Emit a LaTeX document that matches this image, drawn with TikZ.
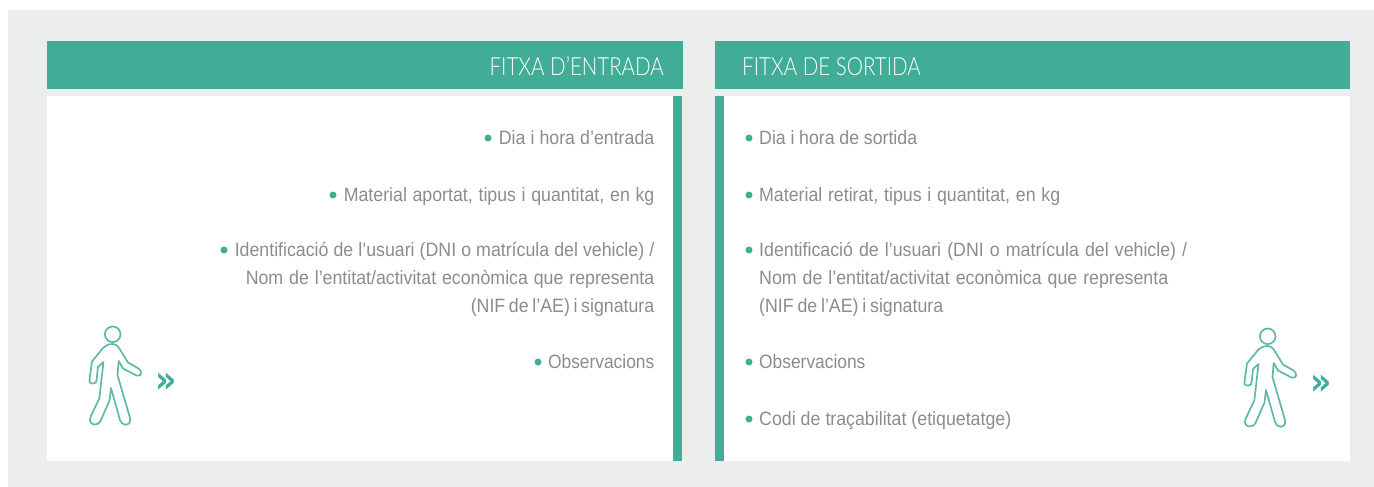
\documentclass[tikz,border=0pt]{standalone}
\usepackage{fontspec}
\setmainfont{Liberation Sans}[FakeStretch=0.92]
\newfontfamily\obsfont{Liberation Sans}[FakeStretch=0.9]
\newfontfamily\headfont{Lato Light}[FakeStretch=0.82]
\newfontfamily\chevfont{DejaVu Sans Bold}
\definecolor{teal1}{HTML}{41AD97}
\definecolor{bgc}{HTML}{ECEDED}
\definecolor{txt}{HTML}{8C8C8C}
\newcommand{\fitw}[2]{\makebox[#1pt][s]{#2}}
\tikzset{
  x=1pt,y=-1pt,
  band/.style={fill=teal1,draw=none},
  panel/.style={fill=white,draw=none},
  head/.style={text=white,font=\headfont\fontsize{25}{27}\selectfont,inner sep=0pt},
  itemR/.style={text=txt,font=\fontsize{19.3}{27.5}\selectfont,inner sep=0pt,anchor=base east,align=right},
  itemL/.style={text=txt,font=\fontsize{19.3}{27.5}\selectfont,inner sep=0pt,anchor=base west,align=left},
  bul/.style={circle,fill=teal1,inner sep=0pt,minimum size=7pt},
  walker/.style={draw=teal1!85,line width=1.7pt,line join=round,fill=none},
  chev/.style={text=teal1,font=\chevfont\fontsize{33}{33}\selectfont,inner sep=0pt},
}
\newcommand{\walkfig}[2]{%
 \begin{scope}[shift={(#1,#2)}]
 \draw[walker] (112.7,334.3) circle[radius=7.8];
 \draw[walker] (112.5,344)
   .. controls (108,344) and (105,346) .. (103,348)
   -- (92,361.5) -- (89.7,378)
   .. controls (89,383) and (90,383.5) .. (93.5,383.5)
   .. controls (96,383.5) and (96.5,382) .. (96.7,379)
   -- (98,367) -- (103.5,362)
   -- (99.3,398.5) -- (90.5,417)
   .. controls (88.5,422) and (92,424.5) .. (95,424.5)
   .. controls (98,424.5) and (99.5,423) .. (100.5,421)
   -- (109.5,400.5) -- (111,388)
   -- (120,420)
   .. controls (121,423) and (123,424.7) .. (125.5,424.7)
   .. controls (129,424.7) and (131,421.5) .. (130,418)
   -- (117.5,375) -- (118.7,361)
   -- (123,368.5) -- (136.5,375.5)
   .. controls (139,376.5) and (141,375.5) .. (141,372.5)
   .. controls (141,371) and (140,369.5) .. (138.5,368.5)
   -- (128,362.5) -- (119,348)
   .. controls (117,345) and (115,344) .. (112.5,344) -- cycle;
 \end{scope}}
\begin{document}
\begin{tikzpicture}
\useasboundingbox (0,0) rectangle (1374,487);
\fill[white] (0,0) rectangle (1374,487);
\fill[bgc] (8,10) rectangle (1374,487);
% left
\path[band] (47,41) rectangle (683,89);
\path[panel] (47,96) rectangle (682,460.5);
\path[band] (673,96) rectangle (682,460.5);
\node[head,anchor=base east] (hl) at (664,75) {FITXA D’ENTRADA};
% right
\path[band] (715,41) rectangle (1350,89);
\path[panel] (715,96) rectangle (1350,460.5);
\path[band] (715,96) rectangle (724,460.5);
\node[head,anchor=base west] (hr) at (742,75) {FITXA DE SORTIDA};
% left items
\node[itemR] (l1) at (654.5,144) {\fitw{155.5}{Dia i hora d’entrada}};
\node[bul] (bl1) at (488,138) {};
\node[itemR] (l2) at (654.5,201) {\fitw{310.5}{Material aportat, tipus i quantitat, en kg}};
\node[bul] (bl2) at (333,195) {};
\node[itemR] (l3a) at (654.5,256) {\fitw{419.5}{Identificació de l’usuari (DNI o matrícula del vehicle) /}};
\node[bul] (bl3) at (224,250) {};
\node[itemR] (l3b) at (654.5,284) {\fitw{408.5}{Nom de l’entitat/activitat econòmica que representa}};
\node[itemR] (l3c) at (654.5,312) {\fitw{183.5}{(NIF de l’AE) i signatura}};
\node[itemR] (l4) at (654.5,368) {\obsfont Observacions};
\node[bul] (bl4) at (538,362) {};
% right items
\node[bul] (br1) at (749,138) {};
\node[itemL] (r1) at (759,144) {\fitw{158}{Dia i hora de sortida}};
\node[bul] (br2) at (749,195) {};
\node[itemL] (r2) at (759,201) {\fitw{301}{Material retirat, tipus i quantitat, en kg}};
\node[bul] (br3) at (749,250) {};
\node[itemL] (r3a) at (759,256) {\fitw{428}{Identificació de l’usuari (DNI o matrícula del vehicle) /}};
\node[itemL] (r3b) at (759,284) {\fitw{409}{Nom de l’entitat/activitat econòmica que representa}};
\node[itemL] (r3c) at (759,312) {\fitw{184}{(NIF de l’AE) i signatura}};
\node[bul] (br4) at (749,362) {};
\node[itemL] (r4) at (759,368) {\obsfont Observacions};
\node[bul] (br5) at (749,419) {};
\node[itemL] (r5) at (759,425) {\fitw{252}{Codi de traçabilitat (etiquetatge)}};
% figures
\walkfig{0}{0}
\walkfig{1155}{2}
\node[chev,yscale=-1.15] (c1) at (166.5,380) {»};
\node[chev,yscale=-1.15] (c2) at (1321.5,382) {»};
\end{tikzpicture}
\end{document}
